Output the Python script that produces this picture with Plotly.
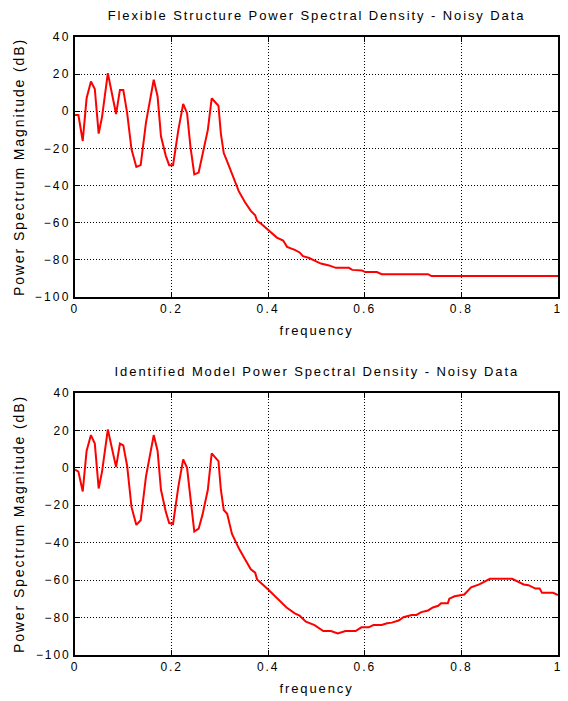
import plotly.graph_objects as go

# Top: Flexible Structure PSD
f_top = [0, 0.007, 0.016, 0.024, 0.033, 0.041, 0.049, 0.056, 0.068, 0.085, 0.093, 0.1, 0.108,
         0.117, 0.127, 0.136, 0.147, 0.163, 0.171, 0.178, 0.188, 0.195, 0.203, 0.214, 0.224,
         0.232, 0.239, 0.247, 0.256, 0.264, 0.275, 0.283, 0.297, 0.302, 0.308, 0.315, 0.325,
         0.339, 0.352, 0.364, 0.373, 0.377, 0.386, 0.4, 0.418, 0.431, 0.439, 0.455, 0.465,
         0.472, 0.485, 0.496, 0.509, 0.526, 0.54, 0.567, 0.574, 0.594, 0.601, 0.625, 0.635,
         0.731, 0.738, 1.0]
p_top = [-2, -2, -16, 7, 16, 12, -12, -3, 20.5, -1.5, 11.5, 11.5, -1,
         -20.5, -30, -29, -6, 17, 8, -13.5, -24, -29, -29, -10, 4,
         -1, -19, -34, -33, -24, -10, 7, 3, -12, -22.5, -27, -34,
         -43, -49, -53.6, -56, -59, -60.7, -64, -68, -69.6, -73, -74.6, -76,
         -78, -79, -80.4, -82, -83, -84.3, -84.3, -85.4, -85.7, -86.6, -86.6, -87.7,
         -87.7, -88.75, -88.75]

# Bottom: Identified Model PSD
f_bot = [0, 0.007, 0.016, 0.024, 0.033, 0.041, 0.049, 0.056, 0.068, 0.085, 0.093, 0.1, 0.108,
         0.117, 0.127, 0.136, 0.147, 0.163, 0.171, 0.178, 0.188, 0.195, 0.203, 0.214, 0.224,
         0.232, 0.239, 0.247, 0.256, 0.264, 0.275, 0.283, 0.297, 0.302, 0.308, 0.315, 0.325,
         0.34, 0.352, 0.364, 0.373, 0.377, 0.4, 0.417, 0.438, 0.455, 0.465, 0.478, 0.496,
         0.514, 0.53, 0.544, 0.56, 0.581, 0.593, 0.608, 0.618, 0.635, 0.646, 0.656, 0.67,
         0.68, 0.697, 0.707, 0.717, 0.731, 0.741, 0.752, 0.758, 0.772, 0.775, 0.786, 0.8,
         0.806, 0.82, 0.837, 0.847, 0.859, 0.905, 0.915, 0.929, 0.939, 0.953, 0.962, 0.967,
         0.99, 1.0]
p_bot = [-1, -2, -12.6, 9, 17.5, 13, -11, -2, 20.5, 0.4, 13, 12, 1,
         -21, -30.5, -28, -4.5, 17.5, 9, -11.7, -23.5, -29.5, -30, -10, 4.5,
         0, -16, -34, -32.5, -25, -11.7, 7.7, 3.6, -11.7, -22.5, -24.5, -35.3,
         -43.4, -48.8, -54.2, -56, -59.6, -65, -69.2, -74.6, -77.7, -79, -82.2, -84,
         -87.2, -87.2, -88.5, -87.2, -87.2, -85.2, -85.2, -84, -84, -83, -82.7, -81.6,
         -79.8, -78.6, -78.6, -77.1, -76.2, -74.6, -73.7, -72.3, -72.3, -69.9, -68.6, -67.7,
         -67.7, -63.8, -62.3, -60.9, -59.3, -59.3, -60.5, -62.3, -62.7, -64.5, -64.5, -66.8,
         -66.8, -68]

x_ticks = [0, 0.2, 0.4, 0.6, 0.8, 1]
x_ticklabels = ["0", "0.2", "0.4", "0.6", "0.8", "1"]
y_ticks = [-100, -80, -60, -40, -20, 0, 20, 40]

titles = ["Flexible Structure Power Spectral Density - Noisy Data",
          "Identified Model Power Spectral Density - Noisy Data"]

FONT = "Liberation Sans, Arial, sans-serif"

fig = go.Figure()
fig.add_trace(go.Scatter(x=f_top, y=p_top, mode="lines", line=dict(color="#ff0000", width=2),
                         xaxis="x", yaxis="y", showlegend=False))
fig.add_trace(go.Scatter(x=f_bot, y=p_bot, mode="lines", line=dict(color="#ff0000", width=2),
                         xaxis="x2", yaxis="y2", showlegend=False))

H, W = 701, 568
mt, mb, ml, mr = 37, 46, 75, 6
ph = H - mt - mb
top_dom = [(655 - 297) / ph, 1.0]
bot_dom = [0.0, (655 - 393) / ph]

def xax(anchor):
    return dict(range=[0, 1], tickvals=x_ticks, ticktext=x_ticklabels, showgrid=True,
                gridcolor="black", griddash="1px,2px", gridwidth=1, zeroline=False,
                showline=True, linecolor="black", linewidth=2, mirror="ticks",
                ticks="inside", ticklen=5, tickcolor="black", anchor=anchor,
                title=dict(text="frequency", font=dict(size=13, family=FONT, color="black"), standoff=10),
                tickfont=dict(size=12, family=FONT, color="black"))

def yax(anchor, dom):
    return dict(range=[-100, 40], tickvals=y_ticks, showgrid=True, domain=dom,
                gridcolor="black", griddash="1px,2px", gridwidth=1, zeroline=False,
                showline=True, linecolor="black", linewidth=2, mirror="ticks",
                ticks="inside", ticklen=5, tickcolor="black", anchor=anchor,
                title=dict(text="Power Spectrum Magnitude (dB)", font=dict(size=14, family=FONT, color="black"), standoff=16),
                tickfont=dict(size=12, family=FONT, color="black"))

fig.update_layout(
    width=W, height=H,
    margin=dict(l=ml, r=mr, t=mt, b=mb),
    paper_bgcolor="white", plot_bgcolor="white",
    xaxis=xax("y"), yaxis=yax("x", top_dom),
    xaxis2=xax("y2"), yaxis2=yax("x2", bot_dom),
    font=dict(family=FONT, size=13, color="black"),
)
fig.layout.xaxis.domain = [0, 1]
fig.layout.xaxis2.domain = [0, 1]

fig.add_annotation(text=titles[0], xref="paper", yref="paper", x=0.5, y=top_dom[1],
                   yshift=12, xanchor="center", yanchor="bottom", showarrow=False,
                   font=dict(size=13, family=FONT, color="black"))
fig.add_annotation(text=titles[1], xref="paper", yref="paper", x=0.5, y=bot_dom[1],
                   yshift=12, xanchor="center", yanchor="bottom", showarrow=False,
                   font=dict(size=13, family=FONT, color="black"))

# Wide letter spacing as in the reference (text stays real text)
post = """
document.querySelectorAll('.main-svg text').forEach(function(t){
  var ls = '1.9px';
  if (t.closest('.xtick') || t.closest('.ytick')) { ls = '2.2px'; }
  t.style.letterSpacing = ls;
});
"""

fig.write_html("out.html", post_script=post)
